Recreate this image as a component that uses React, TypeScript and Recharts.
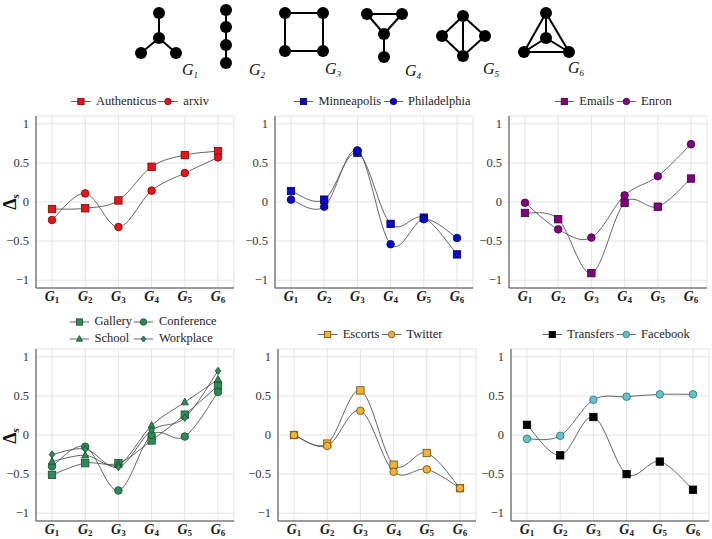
import React from "react";
import { LineChart, Line, XAxis, YAxis, CartesianGrid } from "recharts";

// ── data ────────────────────────────────────────────────────────────────────
const graphs = ["G1", "G2", "G3", "G4", "G5", "G6"];
const yTicks = [-1, -0.5, 0, 0.5, 1];

const authenticus = [-0.09, -0.08, 0.02, 0.45, 0.6, 0.65];
const arxiv = [-0.23, 0.11, -0.32, 0.145, 0.37, 0.57];
const minneapolis = [0.14, 0.03, 0.63, -0.28, -0.2, -0.67];
const philadelphia = [0.03, -0.06, 0.66, -0.54, -0.22, -0.46];
const emails = [-0.14, -0.22, -0.91, -0.01, -0.06, 0.3];
const enron = [-0.01, -0.35, -0.455, 0.085, 0.33, 0.74];
const gallery = [-0.51, -0.36, -0.36, -0.07, 0.26, 0.63];
const conference = [-0.4, -0.15, -0.71, 0.0, -0.02, 0.55];
const school = [-0.34, -0.26, -0.38, 0.12, 0.42, 0.71];
const workplace = [-0.25, -0.18, -0.41, 0.06, 0.22, 0.82];
const escorts = [0.0, -0.11, 0.57, -0.38, -0.23, -0.68];
const twitter = [0.0, -0.14, 0.31, -0.47, -0.44, -0.68];
const transfers = [0.13, -0.26, 0.23, -0.5, -0.34, -0.7];
const facebook = [-0.05, -0.01, 0.45, 0.49, 0.52, 0.52];

const SERIF = "Liberation Serif, DejaVu Serif, serif";
const LINE = "#555";

type Shape = "square" | "circle" | "triangle" | "diamond";
type Series = { name: string; values: number[]; shape: Shape; fill: string; stroke: string };
type Panel = { left: number; top: number; height: number; legendX: number; legendY: number; series: Series[] };

const RED = { fill: "#e8141c", stroke: "#7a0000" };
const BLUE = { fill: "#0a0acc", stroke: "#00005a" };
const PURPLE = { fill: "#82037f", stroke: "#3c003b" };
const GREEN = { fill: "#2e8b57", stroke: "#134a2b" };
const ORANGE = { fill: "#f2b233", stroke: "#6b4a0a" };
const BLACK = { fill: "#000", stroke: "#000" };
const TEAL = { fill: "#63c3cb", stroke: "#2a6d73" };

const panels: Panel[] = [
    { left: 0, top: 85, height: 227, legendX: 140, legendY: 101, series: [
        { name: "Authenticus", values: authenticus, shape: "square", ...RED },
        { name: "arxiv", values: arxiv, shape: "circle", ...RED },
    ] },
    { left: 239, top: 85, height: 227, legendX: 382, legendY: 101, series: [
        { name: "Minneapolis", values: minneapolis, shape: "square", ...BLUE },
        { name: "Philadelphia", values: philadelphia, shape: "circle", ...BLUE },
    ] },
    { left: 473, top: 85, height: 227, legendX: 613, legendY: 101, series: [
        { name: "Emails", values: emails, shape: "square", ...PURPLE },
        { name: "Enron", values: enron, shape: "circle", ...PURPLE },
    ] },
    { left: 0, top: 318, height: 221, legendX: 143, legendY: 330, series: [
        { name: "Gallery", values: gallery, shape: "square", ...GREEN },
        { name: "Conference", values: conference, shape: "circle", ...GREEN },
        { name: "School", values: school, shape: "triangle", ...GREEN },
        { name: "Workplace", values: workplace, shape: "diamond", ...GREEN },
    ] },
    { left: 242, top: 318, height: 221, legendX: 380, legendY: 334, series: [
        { name: "Escorts", values: escorts, shape: "square", ...ORANGE },
        { name: "Twitter", values: twitter, shape: "circle", ...ORANGE },
    ] },
    { left: 475, top: 318, height: 221, legendX: 616, legendY: 334, series: [
        { name: "Transfers", values: transfers, shape: "square", ...BLACK },
        { name: "Facebook", values: facebook, shape: "circle", ...TEAL },
    ] },
];

// small graph pictograms above the charts
const pictos = [
    { label: "1", lx: 182, ly: 75, nodes: [[159, 13], [159, 38], [141, 53], [176, 53]], edges: [[0, 1], [1, 2], [1, 3]] },
    { label: "2", lx: 249, ly: 75, nodes: [[226, 10], [226, 27], [226, 45], [226, 63]], edges: [[0, 1], [1, 2], [2, 3]] },
    { label: "3", lx: 325, ly: 74, nodes: [[285, 13], [323, 13], [323, 51], [285, 51]], edges: [[0, 1], [1, 2], [2, 3], [3, 0]] },
    { label: "4", lx: 405, ly: 76, nodes: [[367, 14], [402, 14], [384, 34], [384, 57]], edges: [[0, 1], [1, 2], [2, 0], [2, 3]] },
    { label: "5", lx: 483, ly: 74, nodes: [[463, 16], [442, 36], [485, 36], [463, 56]], edges: [[0, 1], [0, 2], [0, 3], [1, 3], [2, 3]] },
    { label: "6", lx: 568, ly: 73, nodes: [[546, 13], [546, 38], [524, 52], [569, 52]], edges: [[0, 1], [0, 2], [0, 3], [1, 2], [1, 3], [2, 3]] },
];

// smooth curve similar to TikZ "smooth" (catmull-rom style)
function smoothCurve(context: any) {
    let pts: number[][] = [];
    const k = 0.17;
    return {
        areaStart() {},
        areaEnd() {},
        lineStart() { pts = []; },
        point(x: number, y: number) { pts.push([+x, +y]); },
        lineEnd() {
            const n = pts.length;
            if (!n) return;
            context.moveTo(pts[0][0], pts[0][1]);
            for (let i = 0; i < n - 1; i++) {
                const p0 = pts[Math.max(i - 1, 0)], p1 = pts[i], p2 = pts[i + 1], p3 = pts[Math.min(i + 2, n - 1)];
                context.bezierCurveTo(
                    p1[0] + (p2[0] - p0[0]) * k, p1[1] + (p2[1] - p0[1]) * k,
                    p2[0] - (p3[0] - p1[0]) * k, p2[1] - (p3[1] - p1[1]) * k,
                    p2[0], p2[1],
                );
            }
        },
    };
}

function Marker({ shape, cx, cy, fill, stroke, s = 1 }: { shape: Shape; cx: number; cy: number; fill: string; stroke: string; s?: number }) {
    const sw = 0.8;
    if (shape === "square") return <rect x={cx - 3.7 * s} y={cy - 3.7 * s} width={7.4 * s} height={7.4 * s} fill={fill} stroke={stroke} strokeWidth={sw} />;
    if (shape === "circle") return <circle cx={cx} cy={cy} r={3.8 * s} fill={fill} stroke={stroke} strokeWidth={sw} />;
    if (shape === "triangle") return <polygon points={`${cx},${cy - 4 * s} ${cx + 3.6 * s},${cy + 2.6 * s} ${cx - 3.6 * s},${cy + 2.6 * s}`} fill={fill} stroke={stroke} strokeWidth={sw} />;
    return <polygon points={`${cx},${cy - 3.6 * s} ${cx + 2.8 * s},${cy} ${cx},${cy + 3.6 * s} ${cx - 2.8 * s},${cy}`} fill={fill} stroke={stroke} strokeWidth={sw} />;
}

const fmt = (v: number) => (v < 0 ? "\u2212" + String(-v) : String(v));

const XTick = ({ x, y, payload }: any) => (
    <text x={x} y={y + 12.5} textAnchor="middle" fontFamily={SERIF} fill="#1a1a1a">
        <tspan fontWeight="bold" fontStyle="italic" fontSize={14}>G</tspan>
        <tspan fontWeight="bold" fontSize={9} dy={2}>{String(payload.value).slice(1)}</tspan>
    </text>
);

const YTick = ({ x, y, payload }: any) => (
    <text x={x - 7} y={y + 4} textAnchor="end" fontFamily={SERIF} fontSize={12.5} fill="#333">{fmt(payload.value)}</text>
);

function Legend({ p, dx, dy }: { p: Panel; dx: number; dy: number }) {
    return (
        <div style={{
            position: "absolute", left: p.legendX - dx, top: p.legendY - dy, transform: "translate(-50%, -50%)",
            display: "grid", gridTemplateColumns: "auto auto", columnGap: 2, rowGap: 2,
            fontFamily: SERIF, fontSize: 12.5, color: "#222", whiteSpace: "nowrap",
        }}>
            {p.series.map(s => (
                <div key={s.name} style={{ display: "flex", alignItems: "center", height: 15 }}>
                    <svg width={20} height={10} style={{ marginRight: 5 }}>
                        <line x1={0} y1={5} x2={20} y2={5} stroke={LINE} strokeWidth={0.9} />
                        <Marker shape={s.shape} cx={10} cy={5} fill={s.fill} stroke={s.stroke} s={0.85} />
                    </svg>
                    <span>{s.name}</span>
                </div>
            ))}
        </div>
    );
}

function ChartPanel({ p }: { p: Panel }) {
    const rows = graphs.map((g, i) => {
        const r: Record<string, any> = { g };
        p.series.forEach(s => { r[s.name] = s.values[i]; });
        return r;
    });
    return (
        <div style={{ position: "absolute", left: p.left, top: p.top }}>
            <LineChart width={236} height={p.height} data={rows} margin={{ top: 31, right: 2, left: 0, bottom: 0 }}>
                <CartesianGrid stroke="#dcdcdc" strokeWidth={0.8} />
                <XAxis dataKey="g" padding={{ left: 16, right: 16 }} tick={<XTick />} tickLine={false}
                    tickSize={0} tickMargin={0} height={p.height - 31 - 172} axisLine={{ stroke: "#444", strokeWidth: 1 }} interval={0} />
                <YAxis type="number" domain={[-1.1, 1.1]} ticks={yTicks} tick={<YTick />} tickLine={false}
                    tickSize={0} tickMargin={0} width={36} axisLine={{ stroke: "#444", strokeWidth: 1 }} allowDataOverflow />
                {p.series.map(s => (
                    <Line key={s.name} dataKey={s.name} type={smoothCurve as any} stroke={LINE} strokeWidth={0.9}
                        isAnimationActive={false}
                        dot={(d: any) => <Marker key={`${s.name}-${d.index}`} shape={s.shape} cx={d.cx} cy={d.cy} fill={s.fill} stroke={s.stroke} />}
                        activeDot={false} />
                ))}
            </LineChart>
            <Legend p={p} dx={p.left} dy={p.top} />
        </div>
    );
}

function YLabel({ y }: { y: number }) {
    return (
        <text transform={`translate(16,${y}) rotate(-90)`} textAnchor="middle" fontFamily={SERIF} fill="#111">
            <tspan fontWeight="bold" fontSize={18}>Δ</tspan>
            <tspan fontStyle="italic" fontWeight="bold" fontSize={11} dy={3}>s</tspan>
        </text>
    );
}

export default function App() {
    return (
        <div style={{ position: "absolute", left: 0, top: 0, width: 712, height: 539, background: "#fff", overflow: "hidden" }}>
            <svg width={712} height={539} style={{ position: "absolute", left: 0, top: 0 }}>
                {pictos.map((g, gi) => (
                    <g key={gi}>
                        {g.edges.map(([a, b], ei) => (
                            <line key={ei} x1={g.nodes[a][0]} y1={g.nodes[a][1]} x2={g.nodes[b][0]} y2={g.nodes[b][1]} stroke="#000" strokeWidth={2} />
                        ))}
                        {g.nodes.map(([x, y], ni) => <circle key={ni} cx={x} cy={y} r={6} fill="#000" />)}
                        <text x={g.lx} y={g.ly} fontFamily={SERIF} fill="#111">
                            <tspan fontStyle="italic" fontSize={16}>G</tspan>
                            <tspan fontStyle="italic" fontSize={9} dy={3}>{g.label}</tspan>
                        </text>
                    </g>
                ))}
                <YLabel y={202} />
                <YLabel y={436} />
            </svg>
            {panels.map((p, i) => <ChartPanel key={i} p={p} />)}
        </div>
    );
}
